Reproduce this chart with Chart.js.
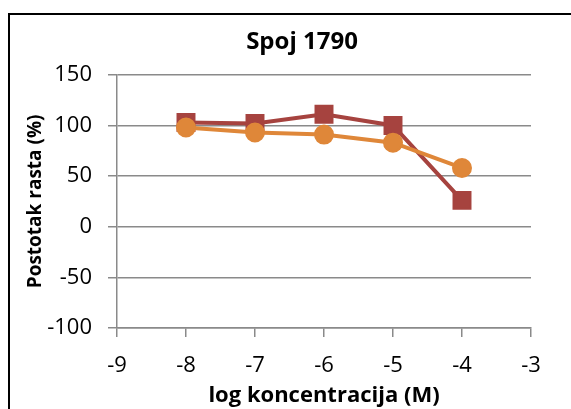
<!DOCTYPE html>
<html>
<head>
<meta charset="utf-8">
<script src="https://cdn.jsdelivr.net/npm/chart.js@4"></script>
<style>
  html, body { margin: 0; padding: 0; background: #fff; overflow: hidden; width: 571px; height: 409px; }
  #frame { position: absolute; left: 8px; top: 13px; width: 600px; height: 420px; border: 2px solid #000; box-sizing: border-box; }
  #wrap { position: absolute; left: 8px; top: 13px; width: 588px; height: 396px; }
</style>
</head>
<body>
<div id="frame"></div>
<div id="wrap"><canvas id="chart" width="588" height="396"></canvas></div>
<script>
const logConc = [-8, -7, -6, -5, -4];
const seriesRed = [103, 102, 111, 100, 26];
const seriesOrange = [98, 93, 91, 83, 58];
const yTicks = [-100, -50, 0, 50, 100, 150];
const xTicks = [-9, -8, -7, -6, -5, -4, -3];

const toPoints = vals => logConc.map((x, i) => ({ x: x, y: vals[i] }));
const gridColor = "#8a8a8a";

new Chart(document.getElementById("chart"), {
  type: "line",
  data: {
    datasets: [{
      data: toPoints(seriesRed),
      borderColor: "#a6433f",
      backgroundColor: "#a6433f",
      borderWidth: 4,
      pointStyle: "rect",
      pointRadius: 12,
      pointBorderWidth: 2,
      tension: 0,
      order: 1
    }, {
      data: toPoints(seriesOrange),
      borderColor: "#df8739",
      backgroundColor: "#df8739",
      borderWidth: 4,
      pointStyle: "circle",
      pointRadius: 9,
      pointBorderWidth: 2,
      tension: 0,
      order: 0
    }]
  },
  options: {
    responsive: false,
    animation: false,
    layout: { padding: 0 },
    plugins: {
      legend: { display: false },
      tooltip: { enabled: false },
      title: {
        display: true,
        text: "Spoj 1790",
        color: "#000",
        font: { family: "Open Sans", size: 24, weight: "bold" },
        padding: { top: 15, bottom: 18 }
      }
    },
    scales: {
      x: {
        type: "linear",
        min: xTicks[0],
        max: xTicks[xTicks.length - 1],
        afterBuildTicks: s => { s.ticks = xTicks.map(v => ({ value: v })); },
        afterFit: s => { s.height = 81; },
        ticks: { color: "#000", font: { family: "Open Sans", size: 22 }, padding: 16, maxRotation: 0 },
        grid: { drawOnChartArea: false, drawTicks: true, tickLength: 9, color: gridColor, lineWidth: 1.5 },
        border: { display: true, color: gridColor, width: 1.5 },
        title: {
          display: true,
          text: "log koncentracija (M)",
          color: "#000",
          font: { family: "Open Sans", size: 22, weight: "bold" },
          padding: 0
        }
      },
      y: {
        min: yTicks[0],
        max: yTicks[yTicks.length - 1],
        afterBuildTicks: s => { s.ticks = yTicks.map(v => ({ value: v })); },
        afterFit: s => { s.width = 109; },
        ticks: { color: "#000", font: { family: "Open Sans", size: 22 }, padding: 16 },
        grid: { drawOnChartArea: true, drawTicks: true, tickLength: 9, color: gridColor, lineWidth: 1.5 },
        border: { display: true, color: gridColor, width: 1.5 },
        title: {
          display: true,
          text: "Postotak rasta (%)",
          color: "#000",
          font: { family: "Open Sans", size: 19, weight: "bold" },
          padding: { top: 16, bottom: 0 }
        }
      },
      // empty right-hand gutter so the title stays centred on the whole frame
      gutter: {
        type: "linear",
        position: "right",
        display: true,
        afterFit: s => { s.width = 65; },
        ticks: { display: false },
        grid: { drawOnChartArea: false, drawTicks: false },
        border: { display: false }
      }
    }
  }
});
</script>
</body>
</html>
